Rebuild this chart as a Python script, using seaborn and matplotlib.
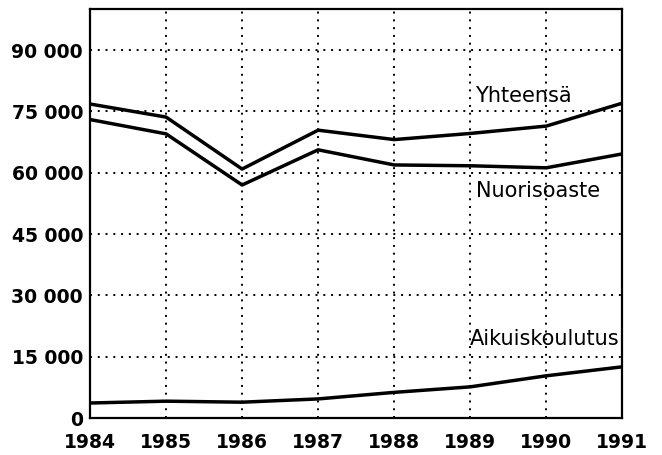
import pandas as pd
import matplotlib
matplotlib.use('Agg')
import matplotlib.pyplot as plt
import seaborn as sns

years = [1984, 1985, 1986, 1987, 1988, 1989, 1990, 1991]
yhteensa = [76800, 73600, 60900, 70400, 68100, 69600, 71400, 77000]
nuorisoaste = [73000, 69500, 57000, 65600, 61900, 61700, 61200, 64600]
aikuiskoulutus = [3700, 4150, 3900, 4700, 6300, 7650, 10350, 12550]
series_names = ['Yhteensä', 'Nuorisoaste', 'Aikuiskoulutus']
y_ticks = [0, 15000, 30000, 45000, 60000, 75000, 90000]
y_labels = ['0', '15 000', '30 000', '45 000', '60 000', '75 000', '90 000']

df = pd.DataFrame({'year': years * 3,
                   'value': yhteensa + nuorisoaste + aikuiskoulutus,
                   'series': [s for s in series_names for _ in years]})

sns.set_theme(style="white", rc={
    "axes.grid": False,
    "axes.facecolor": "white",
    "figure.facecolor": "white",
    "text.color": "black"
})
plt.rcParams['font.family'] = ['DejaVu Sans']

fig = plt.figure(figsize=(6.62, 4.55), dpi=100)
ax = fig.add_axes([0.136, 0.081, 0.804, 0.899])
sns.lineplot(data=df, x='year', y='value', hue='series',
             palette=['black', 'black', 'black'], linewidth=2.5,
             legend=False, ax=ax)

ax.set_xlim(1984, 1991)
ax.set_ylim(0, 100000)
ax.set_xticks(years)
ax.set_xticklabels([str(y) for y in years], fontsize=13.5, fontweight='bold')
ax.set_yticks(y_ticks)
ax.set_yticklabels(y_labels, fontsize=13.5, fontweight='bold')
ax.grid(True, color='black', linestyle=(0, (1, 3)), linewidth=1.4)
ax.tick_params(axis='x', direction='out', length=5, width=1.5, colors='black', pad=6)
ax.tick_params(axis='y', direction='out', length=0, pad=5, colors='black')
for sp in ax.spines.values():
    sp.set_color('black')
    sp.set_linewidth(1.6)
ax.set_xlabel('')
ax.set_ylabel('')

ax.text(1989.06, 77300, 'Yhteensä', fontsize=15, ha='left', va='baseline', color='black')
ax.text(1989.07, 54100, 'Nuorisoaste', fontsize=15, ha='left', va='baseline', color='black')
ax.text(1989.0, 17900, 'Aikuiskoulutus', fontsize=15, ha='left', va='baseline', color='black')

plt.savefig('out.png', dpi=100)
